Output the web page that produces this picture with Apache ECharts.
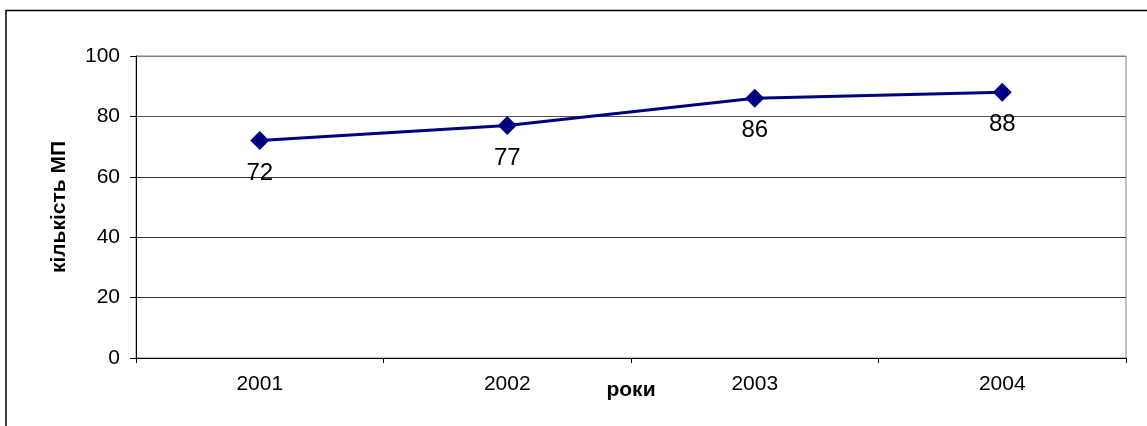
<!DOCTYPE html>
<html>
<head>
<meta charset="utf-8">
<script src="https://cdn.jsdelivr.net/npm/echarts@6/dist/echarts.min.js"></script>
<style>
html,body{margin:0;padding:0;background:#fff;}
#chart{width:1147px;height:426px;}
</style>
</head>
<body>
<div id="chart"></div>
<script>
const years = ['2001', '2002', '2003', '2004'];
const counts = [72, 77, 86, 88];
const yAxisTitle = 'кількість МП';
const xAxisTitle = 'роки';

const FONT = '"Liberation Sans", Arial, sans-serif';
const chart = echarts.init(document.getElementById('chart'), null, {renderer: 'canvas'});
chart.setOption({
  animation: false,
  backgroundColor: '#fff',
  textStyle: {fontFamily: FONT},
  graphic: [{
    type: 'rect',
    shape: {x: 6, y: 10.5, width: 2000, height: 2000},
    style: {fill: 'none', stroke: '#000', lineWidth: 1.5},
    silent: true,
    z: -1
  }],
  grid: {
    left: 136, right: 21, top: 56, bottom: 68,
    show: true, borderColor: '#808080', borderWidth: 1, backgroundColor: 'transparent'
  },
  xAxis: {
    type: 'category',
    data: years,
    boundaryGap: true,
    name: xAxisTitle,
    nameLocation: 'middle',
    nameGap: 22,
    nameMoveOverlap: false,
    nameTextStyle: {fontFamily: FONT, fontSize: 21, fontWeight: 'bold', color: '#000'},
    axisLine: {lineStyle: {color: '#000', width: 1}},
    axisTick: {show: true, alignWithLabel: false, length: 5, inside: false, lineStyle: {color: '#000'}},
    axisLabel: {fontFamily: FONT, fontSize: 21, color: '#000', margin: 16},
    splitLine: {show: false}
  },
  yAxis: {
    type: 'value',
    min: 0, max: 100, interval: 20,
    name: yAxisTitle,
    nameLocation: 'middle',
    nameGap: 66,
    nameMoveOverlap: false,
    nameTextStyle: {fontFamily: FONT, fontSize: 21, fontWeight: 'bold', color: '#000'},
    axisLine: {show: true, lineStyle: {color: '#000', width: 1}},
    axisTick: {show: true, length: 6, lineStyle: {color: '#000'}},
    axisLabel: {fontFamily: FONT, fontSize: 21, color: '#000', margin: 16},
    splitLine: {show: true, lineStyle: {color: ['#000', '#333', '#333', '#333', '#555', '#808080'], width: 1}}
  },
  series: [{
    type: 'line',
    data: counts,
    symbol: 'diamond',
    symbolSize: 19,
    lineStyle: {color: '#000080', width: 3},
    itemStyle: {color: '#000080'},
    label: {
      show: true,
      position: 'bottom',
      distance: 11,
      fontFamily: FONT,
      fontSize: 24,
      color: '#000'
    }
  }]
});
</script>
</body>
</html>
